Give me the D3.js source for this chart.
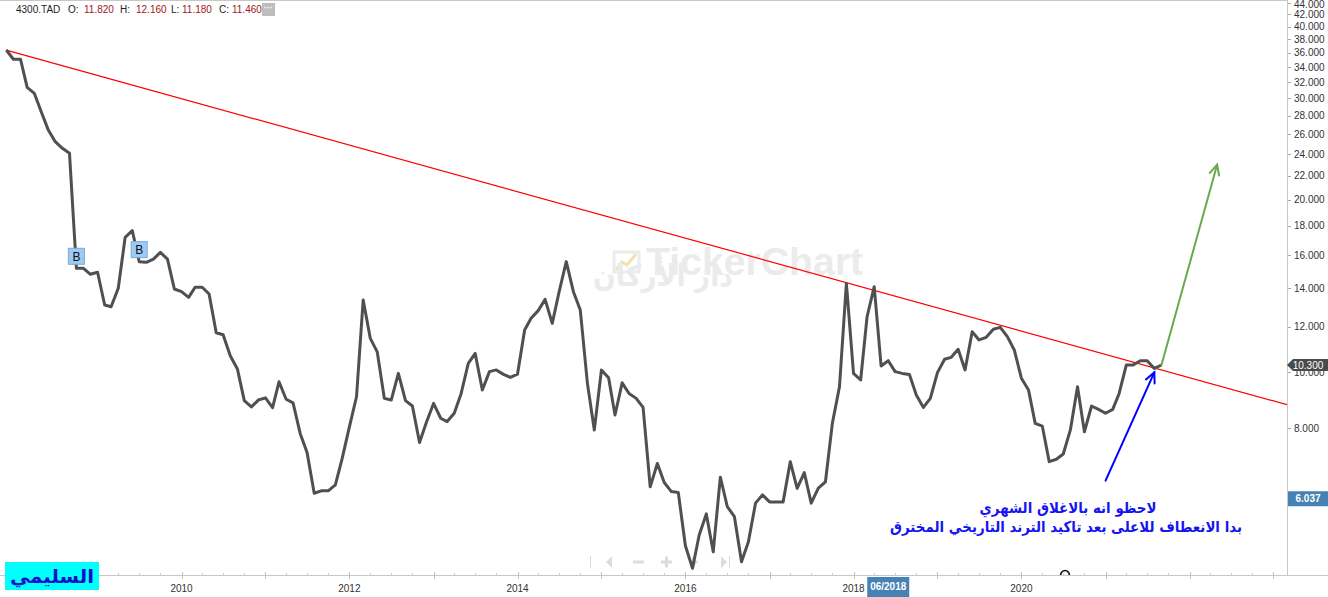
<!DOCTYPE html>
<html><head><meta charset="utf-8">
<script src="https://cdn.jsdelivr.net/npm/d3@7"></script>
<style>body{margin:0;background:#fff;overflow:hidden}svg{display:block}</style>
</head><body>
<svg id="c" width="1328" height="597"></svg>
<script>
// ---------- data ----------
const startMonth = "2007-12-01";            // first monthly close
const closes = [
36.42,35.10,35.10,31.36,30.62,28.44,26.42,25.22,24.56,24.07,
15.18,15.18,14.82,14.94,13.10,13.01,14.01,17.19,17.65,15.59,
15.55,15.75,16.18,15.75,13.97,13.82,13.51,14.07,14.07,13.69,
11.72,11.63,10.69,10.14,8.93,8.71,8.95,9.03,8.68,9.63,
8.98,8.85,7.83,7.25,6.16,6.22,6.22,6.37,7.09,8.04,
9.07,13.37,11.46,10.86,9.01,8.95,9.96,8.93,8.74,7.55,
8.19,8.83,8.32,8.21,8.49,9.19,10.37,10.79,9.32,10.03,
10.10,9.92,9.80,9.93,11.85,12.42,12.81,13.40,12.17,13.82,
15.59,13.82,12.84,9.57,7.94,10.10,9.79,8.43,9.59,9.19,
9.01,8.69,6.32,6.94,6.43,6.20,6.18,4.99,4.56,5.21,
5.67,4.87,6.57,5.84,5.61,4.68,5.07,5.92,6.12,5.95,
5.95,5.95,6.99,6.28,6.69,5.92,6.29,6.45,8.15,9.44,
14.29,9.96,9.70,12.50,14.10,10.26,10.48,10.03,9.96,9.92,
9.13,8.69,9.01,9.99,10.54,10.62,10.97,10.10,11.77,11.39,
11.51,11.89,11.98,11.54,10.94,9.77,9.32,8.15,8.06,6.99,
7.06,7.21,7.94,9.44,7.88,8.74,8.62,8.49,8.62,9.19,
10.30,10.30,10.48,10.48,10.16,10.30];
const yTicks = [8,10,12,14,16,18,20,22,24,26,28,30,32,34,36,38,40,42,44];
const yearLabels = [2010,2012,2014,2016,2018,2020];
const headerSymbol = "4300.TAD";
const headerKeys = ["O:","H:","L:","C:"];
const headerVals = ["11.820","12.160","11.180","11.460"];
const buyIndex = [10,19];
const trendDates = ["2007-12-01","2021-09-01"];
const trendValues = [36.4,10.1];
const upArrowDates = ["2021-09-01","2022-05-01"];
const upArrowValues = [10.30,23.0];
const noteArrowDates = ["2021-01-01","2021-08-01"];
const noteArrowValues = [6.48,10.0];
const lastValueLabel = "10.300";
const lastValue = 10.30;
const crossValue = 6.037;
const crossDate = "2018-06-01";
const crossDateLabel = "06/2018";
const noteLines = ["لاحظو انه بالاغلاق الشهري","بدا الانعطاف للاعلى بعد تاكيد الترند التاريخي  المخترق"];
const authorLabel = "السليمي";
const watermarkLatin = "TickerChart";
const watermarkArabic = "دار الأركان";

// ---------- setup ----------
const W = 1328, H = 597, plotR = 1287, plotB = 575;
const svg = d3.select("#c");
const parse = d3.timeParse("%Y-%m-%d");
const start = parse(startMonth);
const series = closes.map((v,i)=>({date:d3.timeMonth.offset(start,i), value:v}));

const x = d3.scaleTime().domain([new Date(2010,0,1), new Date(2020,0,1)]).range([181.5,1021.4]);
const y = d3.scaleLog().domain([4.438,44.51]).range([plotB,0]);

svg.append("defs").append("clipPath").attr("id","plot")
  .append("rect").attr("x",0).attr("y",0).attr("width",plotR).attr("height",plotB);
svg.select("defs").append("clipPath").attr("id","above")
  .append("rect").attr("x",0).attr("y",0).attr("width",W).attr("height",plotB);

// top border
svg.append("line").attr("x1",0).attr("x2",plotR).attr("y1",0.5).attr("y2",0.5).attr("stroke","#c8c8c8");

// watermark
const wm = svg.append("g");
wm.append("rect").attr("x",614).attr("y",252).attr("width",25).attr("height",20).attr("fill","none").attr("stroke","#ececec").attr("stroke-width",3);
wm.append("path").attr("d","M616,270 L622,262 L627,265 L636,254").attr("fill","none").attr("stroke","#f1e3b0").attr("stroke-width",3);
wm.append("text").attr("x",646).attr("y",275).attr("font-family","Liberation Sans, Arial, sans-serif")
  .attr("font-weight","bold").attr("font-size",38).attr("fill","#ebebeb")
  .attr("textLength",217).attr("lengthAdjust","spacingAndGlyphs").text(watermarkLatin);
wm.append("text").attr("x",663).attr("y",286).attr("text-anchor","middle")
  .attr("font-family","DejaVu Sans, sans-serif").attr("font-weight","bold").attr("font-size",30)
  .attr("fill","#ebebeb").attr("textLength",140).attr("lengthAdjust","spacingAndGlyphs").text(watermarkArabic);

// navigation glyphs (faint)
const nav = svg.append("g").attr("fill","#dcdcdc").attr("stroke","#dcdcdc");
nav.append("line").attr("x1",590.5).attr("x2",590.5).attr("y1",556).attr("y2",568).attr("stroke-width",1);
nav.append("path").attr("d","M606,562 L612,556 L612,568 Z").attr("stroke","none");
nav.append("line").attr("x1",633).attr("x2",644).attr("y1",562).attr("y2",562).attr("stroke-width",3);
nav.append("line").attr("x1",661).attr("x2",672).attr("y1",562).attr("y2",562).attr("stroke-width",3);
nav.append("line").attr("x1",666.5).attr("x2",666.5).attr("y1",556.5).attr("y2",567.5).attr("stroke-width",3);
nav.append("path").attr("d","M698,562 L692,556 L692,568 Z").attr("stroke","none");
nav.append("path").attr("d","M727,562 L721,556 L721,568 Z").attr("stroke","none");
nav.append("line").attr("x1",729.5).attr("x2",729.5).attr("y1",556).attr("y2",568).attr("stroke-width",1);

// axes lines
svg.append("line").attr("x1",0).attr("x2",W).attr("y1",plotB+0.5).attr("y2",plotB+0.5).attr("stroke","#c8c8c8");
svg.append("line").attr("x1",plotR+0.5).attr("x2",plotR+0.5).attr("y1",0).attr("y2",plotB).attr("stroke","#c8c8c8");

// x ticks
const quarters = d3.timeMonth.every(3).range(x.invert(0), x.invert(plotR));
svg.append("g").selectAll("line").data(quarters).join("line")
  .attr("x1",d=>Math.round(x(d))+0.5).attr("x2",d=>Math.round(x(d))+0.5)
  .attr("y1",plotB-2).attr("y2",plotB).attr("stroke","#d0d0d0");
const years = d3.timeYear.range(x.invert(0), x.invert(plotR));
svg.append("g").selectAll("line").data(years).join("line")
  .attr("x1",d=>Math.round(x(d))+0.5).attr("x2",d=>Math.round(x(d))+0.5)
  .attr("y1",plotB-3).attr("y2",plotB+4).attr("stroke","#c0c0c0");
svg.append("g").selectAll("text").data(yearLabels).join("text")
  .attr("x",d=>x(new Date(d,0,1))).attr("y",592).attr("text-anchor","middle")
  .attr("font-family","Liberation Sans, Arial, sans-serif").attr("font-size",10).attr("fill","#333")
  .text(d=>d);

// y ticks
const yg = svg.append("g");
yg.selectAll("line").data(yTicks).join("line")
  .attr("x1",plotR+1).attr("x2",plotR+4).attr("y1",d=>Math.round(y(d))+0.5).attr("y2",d=>Math.round(y(d))+0.5)
  .attr("stroke","#aaa");
yg.selectAll("text").data(yTicks).join("text")
  .attr("x",1294).attr("y",d=>Math.max(y(d)+3.5,8))
  .attr("font-family","Liberation Sans, Arial, sans-serif").attr("font-size",10).attr("fill","#333")
  .text(d=>d3.format(".3f")(d));

// trend line (extended to right edge)
const t0 = [x(parse(trendDates[0])), y(trendValues[0])];
const t1 = [x(parse(trendDates[1])), y(trendValues[1])];
const slope = (t1[1]-t0[1])/(t1[0]-t0[0]);
svg.append("line").attr("clip-path","url(#plot)")
  .attr("x1",t0[0]).attr("y1",t0[1]).attr("x2",plotR).attr("y2",t0[1]+slope*(plotR-t0[0]))
  .attr("stroke","#ff0000").attr("stroke-width",1.2);

// price line
const line = d3.line().x(d=>x(d.date)).y(d=>y(d.value));
svg.append("path").datum(series).attr("clip-path","url(#plot)")
  .attr("d",line).attr("fill","none").attr("stroke","#505050").attr("stroke-width",3)
  .attr("stroke-linejoin","round");

// buy markers
const bg = svg.append("g").selectAll("g").data(buyIndex.map(i=>series[i])).join("g")
  .attr("transform",d=>`translate(${x(d.date)},${y(d.value)-12})`);
bg.append("rect").attr("x",-8).attr("y",-8).attr("width",16).attr("height",16)
  .attr("fill","#9ccbf5").attr("stroke","#7fa8d4");
bg.append("text").attr("y",4.5).attr("text-anchor","middle").attr("font-family","Liberation Sans, Arial, sans-serif")
  .attr("font-size",12).attr("fill","#111").text("B");

// arrows
function arrow(dates, values, color, width, head){
  const p0=[x(parse(dates[0])),y(values[0])], p1=[x(parse(dates[1])),y(values[1])];
  const g=svg.append("g").attr("stroke",color).attr("stroke-width",width).attr("fill","none").attr("stroke-linecap","round");
  g.append("line").attr("x1",p0[0]).attr("y1",p0[1]).attr("x2",p1[0]).attr("y2",p1[1]);
  const a=Math.atan2(p0[1]-p1[1],p0[0]-p1[0]);
  const w1=[p1[0]+head*Math.cos(a+0.45),p1[1]+head*Math.sin(a+0.45)];
  const w2=[p1[0]+head*Math.cos(a-0.45),p1[1]+head*Math.sin(a-0.45)];
  g.append("path").attr("d",`M${w1}L${p1}L${w2}`);
}
arrow(upArrowDates, upArrowValues, "#6aa84f", 2, 11);
arrow(noteArrowDates, noteArrowValues, "#0000ff", 2, 11);

// note text
const nt = svg.append("g").attr("font-family","DejaVu Sans, sans-serif").attr("font-weight","bold")
  .attr("fill","#1515f0").attr("text-anchor","middle").attr("direction","rtl");
nt.append("text").attr("x",1068).attr("y",513).attr("font-size",15)
  .attr("textLength",177).attr("lengthAdjust","spacingAndGlyphs").text(noteLines[0]);
nt.append("text").attr("x",1066).attr("y",532).attr("font-size",15)
  .attr("textLength",352).attr("lengthAdjust","spacingAndGlyphs").text(noteLines[1]);

// O glyph at bottom
svg.append("ellipse").attr("clip-path","url(#above)").attr("cx",1065).attr("cy",576).attr("rx",4.5).attr("ry",5.5)
  .attr("fill","none").attr("stroke","#111").attr("stroke-width",1.6);

// last value label
const ly = y(lastValue);
svg.append("path").attr("d",`M${plotR},${ly} L${plotR+6},${ly-6} L${W},${ly-6} L${W},${ly+6} L${plotR+6},${ly+6} Z`)
  .attr("fill","#4a4a4a");
svg.append("text").attr("x",1308).attr("y",ly+3.5).attr("text-anchor","middle")
  .attr("font-family","Liberation Sans, Arial, sans-serif").attr("font-size",10).attr("fill","#fff").text(lastValueLabel);

// crosshair value label
const cy = y(crossValue);
svg.append("rect").attr("x",plotR+1).attr("y",cy-7).attr("width",W-plotR-1).attr("height",15).attr("fill","#4682b4");
svg.append("text").attr("x",1308).attr("y",cy+4).attr("text-anchor","middle")
  .attr("font-family","Liberation Sans, Arial, sans-serif").attr("font-size",10).attr("font-weight","bold").attr("fill","#fff")
  .text(d3.format(".3f")(crossValue));

// crosshair date label
const cx = x(parse(crossDate));
svg.append("rect").attr("x",cx-21).attr("y",577).attr("width",42).attr("height",20).attr("fill","#4682b4");
svg.append("text").attr("x",cx).attr("y",590).attr("text-anchor","middle")
  .attr("font-family","Liberation Sans, Arial, sans-serif").attr("font-size",10).attr("font-weight","bold").attr("fill","#fff")
  .text(crossDateLabel);

// header
const hf = "Liberation Sans, Arial, sans-serif";
svg.append("text").attr("x",16).attr("y",13).attr("font-family",hf).attr("font-size",10).attr("fill","#222").text(headerSymbol);
const keyX=[68,120,171,219], valX=[84,136,182,232];
headerKeys.forEach((k,i)=>{
  svg.append("text").attr("x",keyX[i]).attr("y",13).attr("font-family",hf).attr("font-size",10).attr("fill","#222").text(k);
  svg.append("text").attr("x",valX[i]).attr("y",13).attr("font-family",hf).attr("font-size",10).attr("fill","#a01818").text(headerVals[i]);
});
svg.append("rect").attr("x",262).attr("y",3).attr("width",13).attr("height",13).attr("fill","#bdbdbd");
svg.append("text").attr("x",268.5).attr("y",11).attr("text-anchor","middle").attr("font-family",hf).attr("font-size",9).attr("font-weight","bold").attr("fill","#fff").text("···");

// author label
svg.append("rect").attr("x",5).attr("y",562).attr("width",94).attr("height",28).attr("fill","#00ffff");
svg.append("text").attr("x",52).attr("y",583).attr("text-anchor","middle").attr("direction","rtl")
  .attr("font-family","DejaVu Sans, sans-serif").attr("font-weight","bold").attr("font-size",19)
  .attr("fill","#1010c8").attr("textLength",84).attr("lengthAdjust","spacingAndGlyphs").text(authorLabel);
</script>
</body></html>
